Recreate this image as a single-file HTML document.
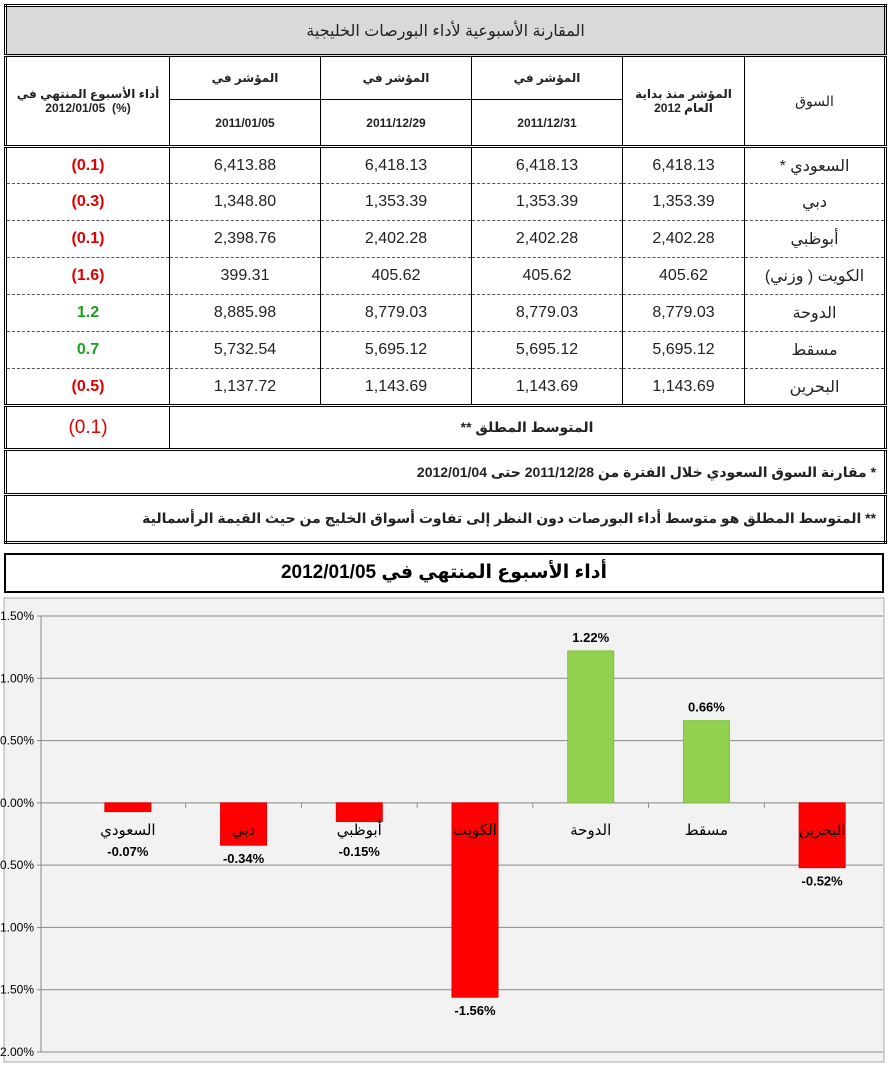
<!DOCTYPE html>
<html><head><meta charset="utf-8">
<style>
body{margin:0;width:888px;height:1065px;background:#fff;font-family:"Liberation Sans","DejaVu Sans",sans-serif;position:relative;overflow:hidden}
table{position:absolute;left:4px;top:4px;width:880px;border-collapse:collapse;table-layout:fixed;border:3px double #000}
td{border:1px solid #000;text-align:center;font-size:16px;color:#222;padding:0}
tr.d td{border-top:1px dashed #555;border-bottom:1px dashed #555}
.hdr td{font-size:12px;font-weight:bold}
.neg{color:#e00000;font-weight:bold}
.pos{color:#1aa31a;font-weight:bold}
.mk{direction:rtl}
#ct{position:absolute;left:4px;top:553px;width:876px;height:36px;border:2px solid #000;text-align:center;font-size:19px;font-weight:bold;line-height:36px}
svg{position:absolute;left:0;top:0}
</style></head><body>
<table>
<colgroup><col style="width:164px"><col style="width:151px"><col style="width:151px"><col style="width:151px"><col style="width:122px"><col style="width:141px"></colgroup>
<tr style="height:50px"><td colspan="6" style="background:#d9d9d9;font-size:16px;border-bottom:3px double #000">المقارنة الأسبوعية لأداء البورصات الخليجية</td></tr>
<tr class="hdr" style="height:44px"><td rowspan="2">أداء الأسبوع المنتهي في<br>2012/01/05 &nbsp;(%)</td><td>المؤشر في</td><td>المؤشر في</td><td>المؤشر في</td><td rowspan="2">المؤشر منذ بداية<br>العام 2012</td><td rowspan="2" style="font-weight:normal;font-size:14px">السوق</td></tr>
<tr class="hdr" style="height:47px;border-bottom:3px double #000"><td>2011/01/05</td><td>2011/12/29</td><td>2011/12/31</td></tr>
<tr class="d" style="height:37px;border-top:3px double #000"><td class="neg">(0.1)</td><td>6,413.88</td><td>6,418.13</td><td>6,418.13</td><td>6,418.13</td><td class="mk">السعودي *</td></tr>
<tr class="d" style="height:37px"><td class="neg">(0.3)</td><td>1,348.80</td><td>1,353.39</td><td>1,353.39</td><td>1,353.39</td><td>دبي</td></tr>
<tr class="d" style="height:37px"><td class="neg">(0.1)</td><td>2,398.76</td><td>2,402.28</td><td>2,402.28</td><td>2,402.28</td><td>أبوظبي</td></tr>
<tr class="d" style="height:37px"><td class="neg">(1.6)</td><td>399.31</td><td>405.62</td><td>405.62</td><td>405.62</td><td class="mk">الكويت ( وزني)</td></tr>
<tr class="d" style="height:37px"><td class="pos">1.2</td><td>8,885.98</td><td>8,779.03</td><td>8,779.03</td><td>8,779.03</td><td>الدوحة</td></tr>
<tr class="d" style="height:37px"><td class="pos">0.7</td><td>5,732.54</td><td>5,695.12</td><td>5,695.12</td><td>5,695.12</td><td>مسقط</td></tr>
<tr class="d" style="height:37px"><td class="neg">(0.5)</td><td>1,137.72</td><td>1,143.69</td><td>1,143.69</td><td>1,143.69</td><td>البحرين</td></tr>
<tr style="height:44px;border-top:3px double #000"><td style="color:#e00000;font-size:19px">(0.1)</td><td colspan="5" class="mk" style="font-weight:bold;font-size:14px">المتوسط المطلق **</td></tr>
<tr style="height:45px;border-top:3px double #000"><td colspan="6" class="mk" style="text-align:right;padding-right:8px;font-weight:bold;font-size:14px">*  مقارنة السوق السعودي  خلال الفترة من 2011/12/28 حتى 2012/01/04</td></tr>
<tr style="height:48px;border-top:3px double #000"><td colspan="6" class="mk" style="text-align:right;padding-right:8px;font-weight:bold;font-size:14px">** المتوسط المطلق هو متوسط أداء البورصات دون النظر إلى تفاوت أسواق الخليج من حيث القيمة الرأسمالية</td></tr>
</table>
<div id="ct">أداء الأسبوع المنتهي في 2012/01/05</div>
<svg id="chart" width="888" height="1065"></svg>
<script>
const categories=["السعودي","دبي","أبوظبي","الكويت","الدوحة","مسقط","البحرين"];
const values=[-0.07,-0.34,-0.15,-1.56,1.22,0.66,-0.52];
const valueLabels=["-0.07%","-0.34%","-0.15%","-1.56%","1.22%","0.66%","-0.52%"];
const ticks=[1.5,1.0,0.5,0,-0.5,-1.0,-1.5,-2.0];
const tickLabels=["1.50%","1.00%","0.50%","0.00%","-0.50%","-1.00%","-1.50%","-2.00%"];
const NS="http://www.w3.org/2000/svg",svg=document.getElementById('chart');
const AX=41,X0=70,X1=880,yMax=1.5,yMin=-2.0,Y0=616,Y1=1052;
const y=v=>Y0+(yMax-v)/(yMax-yMin)*(Y1-Y0);
const band=(X1-X0)/categories.length;
const x=i=>X0+band*(i+0.5);
function el(t,a,p){const e=document.createElementNS(NS,t);for(const k in a)e.setAttribute(k,a[k]);(p||svg).appendChild(e);return e;}
const bg=el('rect',{x:4,y:598,width:880,height:464,fill:'#f2f2f2',stroke:'#aaa'});


ticks.forEach((t,i)=>{
 const g=el('line',{x1:AX-4,x2:883,y1:y(t),y2:y(t),stroke:'#888','stroke-width':1});
 
 
 const l=el('text',{x:34,y:y(t)+4,'text-anchor':'end','font-size':12,fill:'#000'});
 l.textContent=tickLabels[i];
 
 
});
const ax=el('line',{x1:AX,x2:AX,y1:Y0,y2:Y1,stroke:'#888'});


for(let i=1;i<categories.length;i++){const tk=el('line',{x1:X0+band*i,x2:X0+band*i,y1:y(0),y2:y(0)+5,stroke:'#888'});
 
 }
values.forEach((v,i)=>{
 const top=Math.min(y(v),y(0)),h=Math.abs(y(v)-y(0));
 const r=el('rect',{x:x(i)-23,y:top,width:46,height:h,fill:v>=0?'#92d050':'#ff0000',stroke:v>=0?'#80c040':'#e00000'});
 
 
 const cl=el('text',{x:x(i),y:y(0)+32,'text-anchor':'middle','font-size':15,fill:'#000'});
 cl.textContent=categories[i];
 
 
 const vy=v>=0?y(v)-9:Math.max(y(v)+18,y(0)+53);
 const vl=el('text',{x:x(i),y:vy,'text-anchor':'middle','font-size':13,'font-weight':'bold',fill:'#000'});
 vl.textContent=valueLabels[i];
 
 
});
</script>
</body></html>
